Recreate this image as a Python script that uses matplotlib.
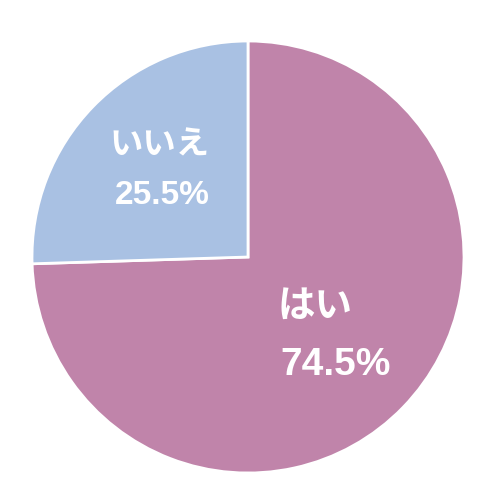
import matplotlib
matplotlib.use("Agg")
import matplotlib.pyplot as plt

labels = ["はい", "いいえ"]
values = [74.5, 25.5]
colors = ["#C084AA", "#A9C1E3"]

plt.rcParams['font.family'] = ['Noto Sans CJK JP', 'DejaVu Sans']

fig = plt.figure(figsize=(5, 5), dpi=100)
ax = fig.add_axes([0, 0, 1, 1])
ax.set_aspect('equal')
ax.axis('off')

ax.pie(values, colors=colors, startangle=90, counterclock=False,
       center=(248, 243), radius=216,
       wedgeprops=dict(edgecolor='white', linewidth=2))
ax.set_xlim(0, 500)
ax.set_ylim(0, 500)

# labels (y measured from the top)
jp = dict(color='white', fontweight='bold', ha='center', va='center')
num = dict(jp, family=['Liberation Sans', 'DejaVu Sans'])
ax.text(160, 500 - 145, labels[1], fontsize=24, **jp)
ax.text(162, 500 - 195, f"{values[1]}%", fontsize=24, **num)
ax.text(315, 500 - 305, labels[0], fontsize=27, **jp)
ax.text(336, 500 - 365, f"{values[0]}%", fontsize=28, **num)

fig.savefig("out.png", dpi=100)
plt.close()
